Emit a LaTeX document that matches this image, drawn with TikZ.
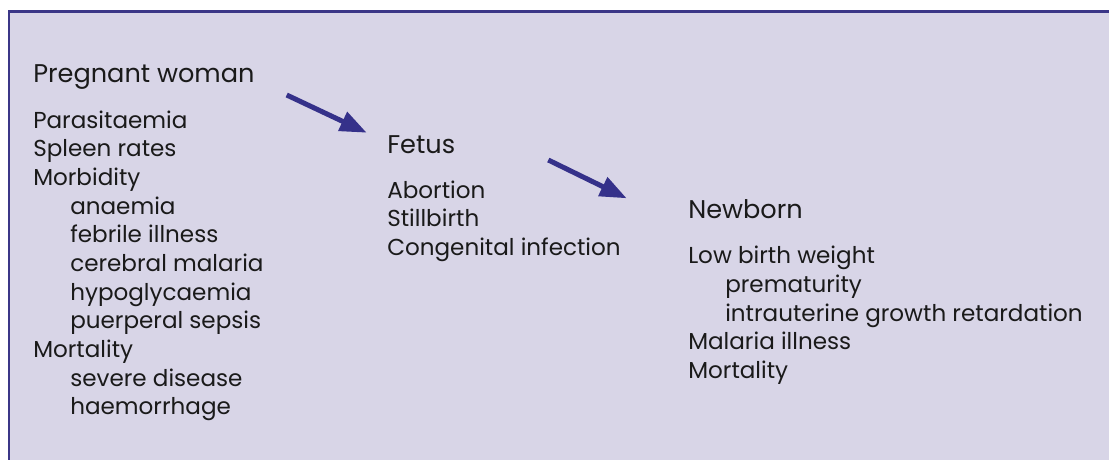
\documentclass[tikz,border=0pt]{standalone}
\usepackage{fontspec}
\setmainfont{Poppins}
\usetikzlibrary{arrows.meta,positioning}
\definecolor{MalNavy}{HTML}{3B3687}
\definecolor{MalArrow}{HTML}{35318A}
\definecolor{MalLilac}{HTML}{D8D5E7}
\definecolor{MalText}{HTML}{1A1A1A}
\newcommand{\sub}{\hspace*{27.75pt}}

\begin{document}
\begin{tikzpicture}[
    x=0.75pt,y=-0.75pt,
    head/.style={inner sep=0pt,anchor=base west,text depth=0pt,text=MalText,font=\fontsize{19.2}{23}\selectfont},
    items/.style={inner sep=0pt,align=left,text=MalText,font=\fontsize{17.3}{21.5}\selectfont},
    arr/.style={-{Triangle[length=20pt,width=15pt]},line width=3.75pt,MalArrow}
  ]
    \useasboundingbox (0,0) rectangle (1109,460);
    \fill[MalLilac] (9,11.5) rectangle (1109,460);
    \draw[MalNavy,line width=2pt] (9,460) -- (9,11.5) -- (1109,11.5);
    % three stages
    \node[head] (woman) at (33,83) {Pregnant woman};
    \node[items,below right=18.3pt and 0pt of woman.south west] (womanlist) {\strut Parasitaemia\\Spleen rates\\Morbidity\\\sub anaemia\\\sub febrile illness\\\sub cerebral malaria\\\sub hypoglycaemia\\\sub puerperal sepsis\\Mortality\\\sub severe disease\\\sub haemorrhage};
    \node[head] (fetus) at (387,153.3) {Fetus};
    \node[items,below right=18.3pt and 0pt of fetus.south west] (fetuslist) {\strut Abortion\\Stillbirth\\Congenital infection};
    \node[head] (newborn) at (688,218.8) {Newborn};
    \node[items,below right=18.3pt and 0pt of newborn.south west] (newbornlist) {\strut Low birth weight\\\sub prematurity\\\sub intrauterine growth retardation\\Malaria illness\\Mortality};
    % arrows
    \coordinate (tail1) at (286.7,95);
    \coordinate (tip1) at (366.7,132.7);
    \coordinate (tail2) at (548.3,160);
    \coordinate (tip2) at (626.7,198.3);
    \draw[arr] (tail1) -- (tip1);
    \draw[arr] (tail2) -- (tip2);
\end{tikzpicture}
\end{document}
